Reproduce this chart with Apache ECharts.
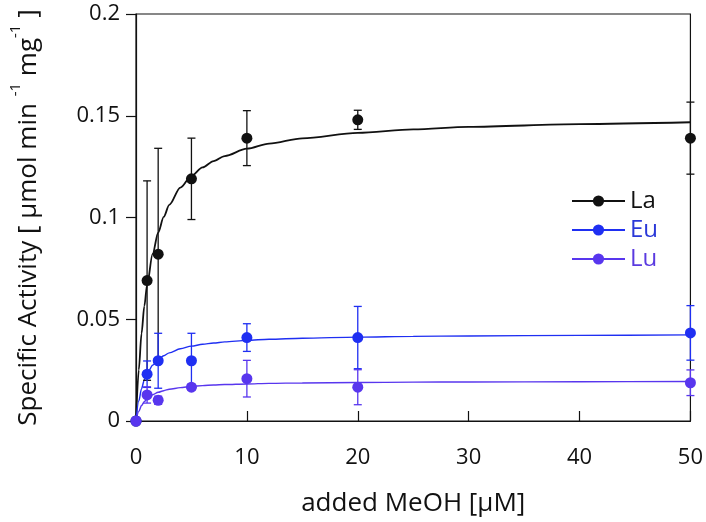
<!DOCTYPE html>
<html>
<head>
<meta charset="utf-8">
<script src="https://cdn.jsdelivr.net/npm/echarts@6/dist/echarts.min.js"></script>
<style>html,body{margin:0;padding:0;background:#fff}#c{width:706px;height:522px}</style>
</head>
<body>
<div id="c"></div>
<script>
// measured points
var xPts = [0, 1, 2, 5, 10, 20, 50];
var laVals = [0, 0.069, 0.082, 0.119, 0.139, 0.148, 0.139];
var laErr  = [0, 0.049, 0.052, 0.020, 0.0135, 0.0047, 0.0177];
var euVals = [0, 0.023, 0.0296, 0.0296, 0.041, 0.041, 0.0433];
var euErr  = [0, 0.0065, 0.0135, 0.0135, 0.0068, 0.0153, 0.0134];
var luVals = [0, 0.0128, 0.0102, 0.0166, 0.0208, 0.0166, 0.0188];
var luErr  = [0, 0.004, 0.002, 0.0015, 0.009, 0.0086, 0.0063];
// fitted curves
var curveX = [0, 0.25, 0.5, 0.75, 1, 1.5, 2, 2.5, 3, 4, 5, 6, 7, 8, 10, 12, 15, 20, 25, 30, 40, 50];
var laFit = [0, 0.0251, 0.043, 0.0564, 0.0669, 0.0821, 0.0926, 0.1003, 0.1062, 0.1147, 0.1204, 0.1246, 0.1277, 0.1302, 0.1338, 0.1363, 0.1389, 0.1416, 0.1433, 0.1445, 0.1459, 0.1468];
var euFit = [0, 0.0098, 0.0159, 0.0202, 0.0232, 0.0274, 0.0302, 0.0321, 0.0335, 0.0355, 0.0368, 0.0377, 0.0383, 0.0389, 0.0396, 0.0402, 0.0407, 0.0412, 0.0416, 0.0418, 0.0421, 0.0423];
var luFit = [0, 0.0047, 0.0076, 0.0095, 0.0109, 0.0129, 0.0141, 0.0149, 0.0156, 0.0164, 0.017, 0.0174, 0.0177, 0.0179, 0.0182, 0.0185, 0.0187, 0.0189, 0.0191, 0.0192, 0.0193, 0.0194];
var names = ['La', 'Eu', 'Lu'];
var xTicks = [0, 10, 20, 30, 40, 50];
var yTicks = [0, 0.05, 0.1, 0.15, 0.2];

var colors = { La: '#111111', Eu: '#1f2ff2', Lu: '#5836ee' };
var textColors = { La: '#111111', Eu: '#2a38d8', Lu: '#5a3ae0' };
var FONT = 'Open Sans';

function pairs(xs, ys) { return xs.map(function (x, i) { return [x, ys[i]]; }); }
function errData(xs, ys, es) { return xs.map(function (x, i) { return [x, ys[i] - es[i], ys[i] + es[i]]; }); }

var sets = {
  La: { v: laVals, e: laErr, f: laFit, w: 1.8 },
  Eu: { v: euVals, e: euErr, f: euFit, w: 1.4 },
  Lu: { v: luVals, e: luErr, f: luFit, w: 1.4 }
};

var series = [];
names.forEach(function (n) {
  series.push({
    name: n, type: 'line', data: pairs(curveX, sets[n].f),
    smooth: 0.3, smoothMonotone: 'x', showSymbol: false, symbol: 'circle',
    lineStyle: { color: colors[n], width: sets[n].w }, itemStyle: { color: colors[n] },
    z: 2, silent: true
  });
});
names.forEach(function (n) {
  series.push({
    name: n, type: 'custom', data: errData(xPts, sets[n].v, sets[n].e), clip: false, z: 3,
    renderItem: function (params, api) {
      var x = api.value(0);
      if (api.value(2) - api.value(1) <= 0) return null;
      var lo = api.coord([x, api.value(1)]);
      var hi = api.coord([x, api.value(2)]);
      var hw = 4;
      var st = { stroke: colors[n], lineWidth: 1.3 };
      return { type: 'group', children: [
        { type: 'line', shape: { x1: lo[0], y1: lo[1], x2: hi[0], y2: hi[1] }, style: st },
        { type: 'line', shape: { x1: lo[0] - hw, y1: lo[1], x2: lo[0] + hw, y2: lo[1] }, style: st },
        { type: 'line', shape: { x1: hi[0] - hw, y1: hi[1], x2: hi[0] + hw, y2: hi[1] }, style: st }
      ]};
    }
  });
});
names.forEach(function (n) {
  series.push({
    name: n, type: 'scatter', data: pairs(xPts, sets[n].v), symbol: 'circle', symbolSize: 11,
    itemStyle: { color: colors[n], opacity: 1 }, z: 4, clip: false
  });
});

var chart = echarts.init(document.getElementById('c'));
chart.setOption({
  animation: false,
  backgroundColor: '#fff',
  grid: { left: 131, right: 14, top: 14, bottom: 95, show: true, borderColor: '#111', borderWidth: 1.2, backgroundColor: 'transparent' },
  legend: {
    orient: 'vertical', left: 571, top: 189, padding: 0, itemGap: 5,
    itemWidth: 53, itemHeight: 14,
    data: names.map(function (n) { return { name: n, textStyle: { color: textColors[n] } }; }),
    textStyle: { fontFamily: FONT, fontSize: 24, lineHeight: 24 }
  },
  xAxis: {
    type: 'value', min: xTicks[0], max: xTicks[xTicks.length - 1], interval: xTicks[1] - xTicks[0],
    name: 'added MeOH [μM]', nameLocation: 'middle', nameGap: 70,
    nameTextStyle: { fontFamily: FONT, fontSize: 26, color: '#111' },
    axisLine: { lineStyle: { color: '#111', width: 1.2 } },
    axisTick: { inside: true, length: 10, lineStyle: { color: '#111', width: 1.2 } },
    axisLabel: { fontFamily: FONT, fontSize: 22, color: '#111', margin: 26 },
    splitLine: { show: false }
  },
  yAxis: {
    type: 'value', min: yTicks[0], max: yTicks[yTicks.length - 1], interval: yTicks[1] - yTicks[0],
    name: '{a|Specific Activity [ μmol min }{s|-1}{a| mg}{s|-1}{a| ]}',
    nameLocation: 'middle', nameGap: 94,
    nameTextStyle: {
      fontFamily: FONT, fontSize: 26, color: '#111',
      rich: {
        a: { fontFamily: FONT, fontSize: 26, color: '#111', lineHeight: 34, verticalAlign: 'bottom' },
        s: { fontFamily: FONT, fontSize: 15, color: '#111', lineHeight: 34, verticalAlign: 'top' }
      }
    },
    axisLine: { lineStyle: { color: '#111', width: 1.2 } },
    axisTick: { inside: false, length: 10, lineStyle: { color: '#111', width: 1.2 } },
    axisLabel: { fontFamily: FONT, fontSize: 22, color: '#111', margin: 16,
      formatter: function (v) { return String(+v.toFixed(2)); } },
    splitLine: { show: false }
  },
  series: series
});
</script>
</body>
</html>
